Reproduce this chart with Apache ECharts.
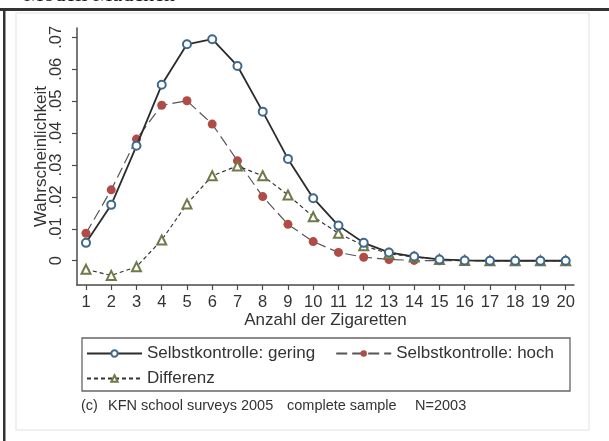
<!DOCTYPE html>
<html>
<head>
<meta charset="utf-8">
<script src="https://cdn.jsdelivr.net/npm/echarts@6/dist/echarts.min.js"></script>
<style>
  html, body { margin: 0; padding: 0; background: #fff; }
  #main { width: 609px; height: 441px; }
</style>
</head>
<body>
<div id="main"></div>
<script>
var chart = echarts.init(document.getElementById('main'), null, { renderer: 'canvas' });

// Anzahl der Zigaretten
var zigaretten = [1, 2, 3, 4, 5, 6, 7, 8, 9, 10, 11, 12, 13, 14, 15, 16, 17, 18, 19, 20];
// Wahrscheinlichkeit je Gruppe
var gering = [0.0056, 0.0175, 0.0360, 0.0551, 0.0678, 0.0694, 0.0610, 0.0467, 0.0319, 0.0196,
              0.0110, 0.0056, 0.0026, 0.0013, 0.0004, 0.0001, 0.0000, 0.0000, 0.0000, 0.0000];
var hoch = [0.0086, 0.0222, 0.0381, 0.0487, 0.0501, 0.0428, 0.0313, 0.0201, 0.0114, 0.0060,
            0.0026, 0.0011, 0.0004, 0.0001, 0.0000, 0.0000, 0.0000, 0.0000, 0.0000, 0.0000];
var differenz = [-0.0027, -0.0046, -0.0019, 0.0065, 0.0178, 0.0266, 0.0297, 0.0266, 0.0206, 0.0138,
                 0.0086, 0.0047, 0.0022, 0.0012, 0.0004, 0.0001, 0.0000, 0.0000, 0.0000, 0.0000];
var yTicks = [0, 0.01, 0.02, 0.03, 0.04, 0.05, 0.06, 0.07];
var yTickLabels = ['0', '.01', '.02', '.03', '.04', '.05', '.06', '.07'];

function pairs(ys) {
    var out = [];
    for (var i = 0; i < zigaretten.length; i++) {
        out.push([zigaretten[i], ys[i]]);
    }
    return out;
}

var font = 'Liberation Sans, Arial, sans-serif';
var txt = '#333';

chart.setOption({
    animation: false,
    backgroundColor: '#fff',
    grid: { left: 77, right: 35, top: 28, bottom: 156 },
    xAxis: {
        type: 'value',
        min: 0.644,
        max: 20.33,
        name: 'Anzahl der Zigaretten',
        nameLocation: 'middle',
        nameGap: 27,
        nameMoveOverlap: false,
        nameTextStyle: { color: txt, fontSize: 17, fontFamily: font, verticalAlign: 'top' },
        axisLine: { onZero: false, lineStyle: { color: '#4a4a4a', width: 1.5 } },
        axisTick: { customValues: zigaretten, length: 5, lineStyle: { color: '#4a4a4a', width: 1.2 } },
        axisLabel: {
            customValues: zigaretten,
            margin: 9,
            color: txt,
            fontSize: 16.5,
            fontFamily: font
        },
        splitLine: { show: false }
    },
    yAxis: {
        type: 'value',
        min: -0.0076,
        max: 0.0729,
        name: 'Wahrscheinlichkeit',
        nameLocation: 'middle',
        nameGap: 27,
        nameMoveOverlap: false,
        nameTextStyle: { color: txt, fontSize: 17, fontFamily: font },
        axisLine: { show: true, onZero: false, lineStyle: { color: '#4a4a4a', width: 1.5 } },
        axisTick: { show: true, customValues: yTicks, length: 5, lineStyle: { color: '#4a4a4a', width: 1.2 } },
        axisLabel: {
            customValues: yTicks,
            rotate: 90,
            margin: 12,
            color: txt,
            fontSize: 16.5,
            fontFamily: font,
            formatter: function (v) {
                for (var i = 0; i < yTicks.length; i++) {
                    if (Math.abs(yTicks[i] - v) < 1e-9) return yTickLabels[i];
                }
                return '';
            }
        },
        splitLine: { show: false }
    },
    legend: [
        {
            left: 86,
            top: 345,
            padding: 0,
            itemWidth: 55,
            itemHeight: 8,
            itemGap: 20,
            textStyle: { color: txt, fontSize: 17, fontFamily: font },
            data: ['Selbstkontrolle: gering', 'Selbstkontrolle: hoch']
        },
        {
            left: 86,
            top: 370,
            padding: 0,
            itemWidth: 55,
            itemHeight: 8,
            textStyle: { color: txt, fontSize: 17, fontFamily: font },
            data: ['Differenz']
        }
    ],
    graphic: [
        // title, cut off at the top of the picture
        {
            type: 'text', x: 24, y: 6, silent: true,
            style: {
                text: 'Modell Mädchen', fill: '#111',
                font: '22px "Liberation Serif", serif',
                verticalAlign: 'bottom'
            }
        },
        {
            type: 'rect', silent: true,
            shape: { x: 0, y: 8, width: 609, height: 3 },
            style: { fill: '#333' }
        },
        {
            type: 'rect', silent: true,
            shape: { x: 3, y: 8, width: 2.5, height: 433 },
            style: { fill: '#333' }
        },
        {
            type: 'rect', silent: true, z: -1,
            shape: { x: 16, y: 13, width: 573, height: 417 },
            style: { fill: 'none', stroke: '#ececec', lineWidth: 1.5 }
        },
        // legend frame
        {
            type: 'rect', silent: true,
            shape: { x: 82, y: 338, width: 488, height: 53 },
            style: { fill: 'none', stroke: '#666', lineWidth: 1.3 }
        },
        {
            type: 'text', left: 81, top: 398, silent: true,
            style: { text: '(c)', fill: txt, font: '14.5px ' + font }
        },
        {
            type: 'text', left: 108, top: 398, silent: true,
            style: { text: 'KFN school surveys 2005', fill: txt, font: '14.5px ' + font }
        },
        {
            type: 'text', left: 287, top: 398, silent: true,
            style: { text: 'complete sample', fill: txt, font: '14.5px ' + font }
        },
        {
            type: 'text', left: 415, top: 398, silent: true,
            style: { text: 'N=2003', fill: txt, font: '14.5px ' + font }
        }
    ],
    series: [
        {
            name: 'Selbstkontrolle: gering',
            type: 'line',
            data: pairs(gering),
            symbol: 'emptyCircle',
            symbolSize: 8,
            z: 3,
            lineStyle: { color: '#2b2b2b', width: 1.8, type: 'solid' },
            itemStyle: { color: '#3d6a8c', borderWidth: 1.3 }
        },
        {
            name: 'Selbstkontrolle: hoch',
            type: 'line',
            data: pairs(hoch),
            symbol: 'circle',
            symbolSize: 9,
            z: 2,
            lineStyle: { color: '#555', width: 1.2, type: [11, 5] },
            itemStyle: { color: '#b04b45' }
        },
        {
            name: 'Differenz',
            type: 'line',
            data: pairs(differenz),
            symbol: 'emptyTriangle',
            symbolSize: 9,
            z: 2,
            lineStyle: { color: '#333', width: 1.2, type: [4, 3] },
            itemStyle: { color: '#6e7a48', borderWidth: 1.3 }
        }
    ]
});
</script>
</body>
</html>
